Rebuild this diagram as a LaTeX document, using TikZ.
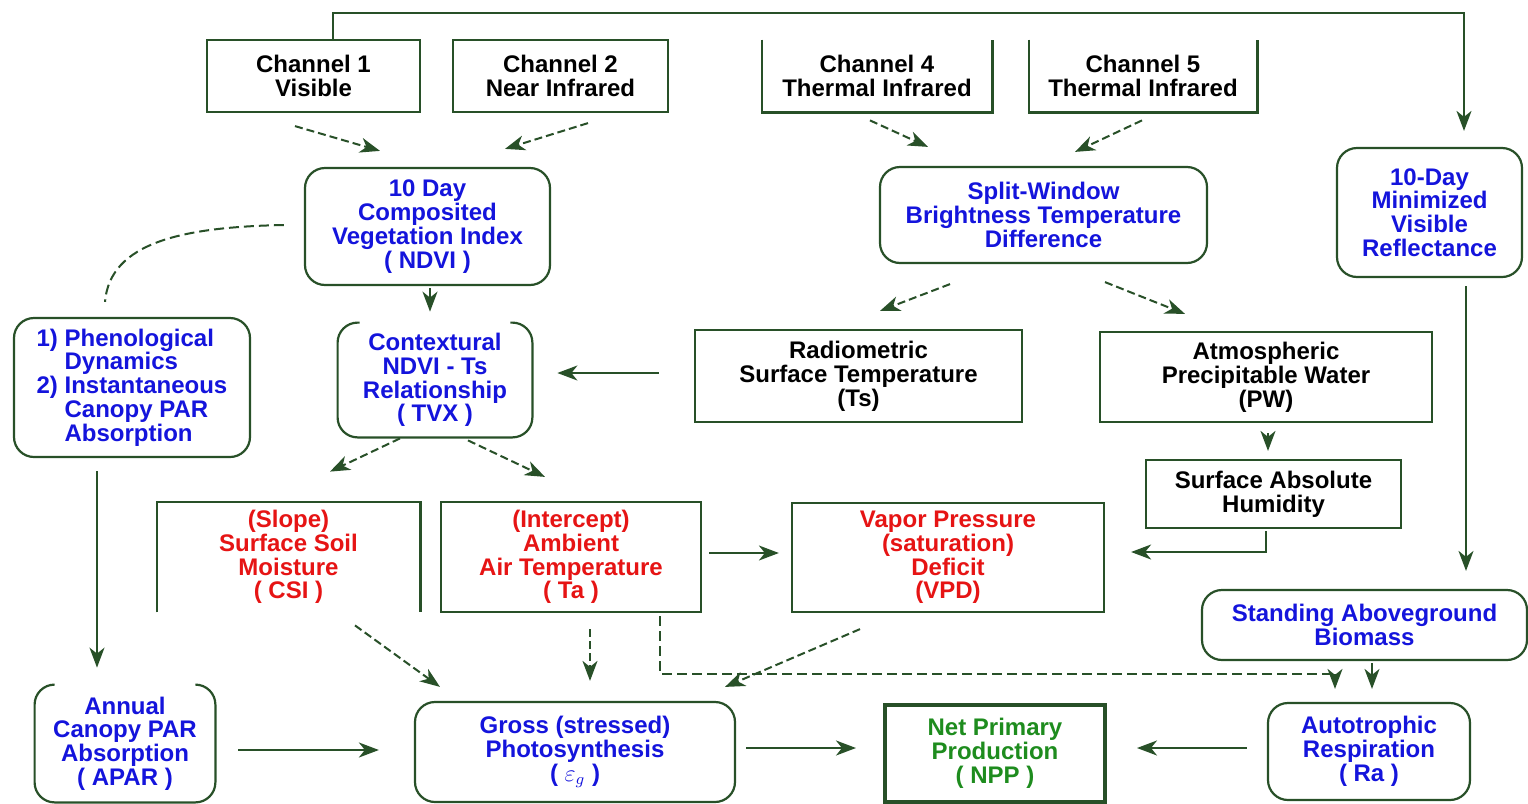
\documentclass[tikz,border=0pt]{standalone}
\usepackage{fontspec}
\setmainfont{Liberation Sans}
\usetikzlibrary{arrows.meta,calc}
\definecolor{dg}{RGB}{40,80,40}
\definecolor{tblue}{RGB}{20,20,220}
\definecolor{tred}{RGB}{230,20,20}
\definecolor{tgreen}{RGB}{30,140,30}
\begin{document}
\begin{tikzpicture}[x=0.5pt,y=-0.5pt,
  every node/.style={font=\bfseries\fontsize{12}{11.9}\selectfont, align=center, inner sep=0pt},
  box/.style={draw=dg, line width=1.1pt, rectangle},
  rbox/.style={draw=dg, line width=1.1pt, rectangle, rounded corners=10pt},
  nobox/.style={rectangle},
  frame/.style={draw=dg, line width=1.1pt},
  arr/.style={draw=dg, line width=1pt, -{Stealth[length=10pt,width=7.5pt,inset=3pt]}},
  darr/.style={arr, dash pattern=on 4pt off 2pt},
  dline/.style={draw=dg, line width=1pt, dash pattern=on 5pt off 2.5pt}
]
\useasboundingbox (0,0) rectangle (1528,804);
\fill[white] (0,0) rectangle (1528,804);

% top row
\node[box, minimum width=106.5pt, minimum height=36pt] (ch1) at (313.5,76) {Channel 1\\Visible};
\node[box, minimum width=107.5pt, minimum height=36pt] (ch2) at (560.5,76) {Channel 2\\Near Infrared};
\node[nobox, minimum width=115pt, minimum height=36pt] (ch4) at (877,76) {Channel 4\\Thermal Infrared};
\node[nobox, minimum width=114pt, minimum height=36pt] (ch5) at (1143,76) {Channel 5\\Thermal Infrared};
\draw[frame] (ch4.north west) -- (ch4.south west) -- (ch4.south east) -- (ch4.north east);
\draw[frame] (ch5.north west) -- (ch5.south west) -- (ch5.south east) -- (ch5.north east);

% second row
\node[rbox, text=tblue, minimum width=122.5pt, minimum height=58.5pt] (ndvi) at (427.5,226.5) {10 Day\\Composited\\Vegetation Index\\( NDVI )};
\node[rbox, text=tblue, minimum width=163.5pt, minimum height=48pt] (split) at (1043.5,215) {Split-Window\\Brightness Temperature\\Difference};
\node[rbox, text=tblue, minimum width=92.5pt, minimum height=64.5pt] (min) at (1429.5,212.5) {10-Day\\Minimized\\Visible\\Reflectance};

% third row
\node[rbox, text=tblue, align=left, minimum width=118pt, minimum height=69.5pt] (phen) at (132,387.5) {1) Phenological\\\phantom{1) }Dynamics\\2) Instantaneous\\\phantom{2) }Canopy PAR\\\phantom{2) }Absorption};
\node[nobox, text=tblue, minimum width=97pt, minimum height=57pt] (tvx) at (435,380) {Contextural\\NDVI - Ts\\Relationship\\( TVX )};
\draw[frame, rounded corners=10pt] ($(tvx.north west)+(22,0)$) -- (tvx.north west) -- (tvx.south west) -- (tvx.south east) -- (tvx.north east) -- ($(tvx.north east)+(-22,0)$);
\node[box, minimum width=163.5pt, minimum height=46pt] (ts) at (858.5,376) {Radiometric\\Surface Temperature\\(Ts)};
\node[box, minimum width=166pt, minimum height=45pt] (pw) at (1266,377) {Atmospheric\\Precipitable Water\\(PW)};
\node[box, minimum width=127.5pt, minimum height=34pt] (hum) at (1273.5,494) {Surface Absolute\\Humidity};

% fourth row
\node[nobox, text=tred, minimum width=131.5pt, minimum height=55pt] (csi) at (288.5,557) {(Slope)\\Surface Soil\\Moisture\\( CSI )};
\draw[frame] (csi.south west) -- (csi.north west) -- (csi.north east) -- (csi.south east);
\node[box, text=tred, minimum width=130pt, minimum height=55pt] (ta) at (571,557) {(Intercept)\\Ambient\\Air Temperature\\( Ta )};
\node[box, text=tred, minimum width=156pt, minimum height=54.5pt] (vpd) at (948,557.5) {Vapor Pressure\\(saturation)\\Deficit\\(VPD)};
\node[rbox, text=tblue, minimum width=162.5pt, minimum height=35pt] (stand) at (1364.5,625) {Standing Aboveground\\Biomass};

% bottom row
\node[nobox, text=tblue, minimum width=90pt, minimum height=58.5pt] (apar) at (125,743.5) {Annual\\Canopy PAR\\Absorption\\( APAR )};
\draw[frame, rounded corners=10pt] ($(apar.north west)+(18,0)$) -- (apar.north west) -- (apar.south west) -- (apar.south east) -- (apar.north east) -- ($(apar.north east)+(-20,0)$);
\node[rbox, text=tblue, minimum width=160pt, minimum height=50pt] (gross) at (575,752) {Gross (stressed)\\Photosynthesis\\( $\varepsilon_{g}$ )};
\node[draw=dg, line width=2pt, text=tgreen, minimum width=110pt, minimum height=48.5pt] (npp) at (995,753.5) {Net Primary\\Production\\( NPP )};
\node[rbox, text=tblue, minimum width=101pt, minimum height=48.5pt] (ra) at (1369,751.5) {Autotrophic\\Respiration\\( Ra )};

% connectors
\draw[arr] ($(ch1.north)+(19.5,0)$) -- ++(0,-26) -| ($(min.north)+(34.5,-16)$);
\draw[darr] ($(ch1.south)+(-18.5,13)$) -- ($(ndvi.north)+(-47.5,-16)$);
\draw[darr] ($(ch2.south)+(27.5,10)$) -- ($(ndvi.north)+(77.5,-18)$);
\draw[darr] ($(ch4.south)+(-7,8)$) -- ($(split.north)+(-115.5,-19)$);
\draw[darr] ($(ch5.south)+(-1,8)$) -- ($(split.north)+(31.5,-14)$);
\draw[arr] ($(ndvi.south)+(2.5,2)$) -- ($(tvx.north)+(-5,-11)$);
\draw[dline] ($(ndvi.west)+(-20,-1.5)$) .. controls +(-100,2) and +(5,-60) .. ($(phen.north)+(-27,-15)$);
\draw[arr] ($(phen.south)+(-35,13)$) -- ($(apar.north)+(-28,-17)$);
\draw[darr] ($(split.south)+(-93.5,20)$) -- ($(ts.north)+(21.5,-18)$);
\draw[darr] ($(split.south)+(61.5,18)$) -- ($(pw.north)+(-81,-17)$);
\draw[arr] ($(ts.west)+(-35,-3)$) -- ($(tvx.east)+(25,-7)$);
\draw[arr] ($(pw.south)+(2,10)$) -- ($(hum.north)+(-5.5,-8)$);
\draw[arr] ($(hum.south)+(-7.5,2)$) |- ($(vpd.east)+(26,-5.5)$);
\draw[arr] ($(min.south)+(36.5,8)$) -- ($(stand.north)+(101.5,-18)$);
\draw[darr] ($(tvx.south)+(-35,1)$) -- ($(csi.north)+(41.5,-30)$);
\draw[darr] ($(tvx.south)+(33,3)$) -- ($(ta.north)+(-26,-24)$);
\draw[arr] ($(ta.east)+(7,-4)$) -- ($(vpd.west)+(-12,-4.5)$);
\draw[darr] ($(csi.south)+(66.5,13)$) -- ($(gross.north)+(-135,-14)$);
\draw[darr] ($(ta.south)+(19,16)$) -- ($(gross.north)+(15,-20)$);
\draw[dline] ($(ta.south)+(89,3)$) |- ($(ra.north)+(-34,-28)$);
\draw[arr] ($(ra.north)+(-34,-28)$) -- ($(ra.north)+(-34,-13)$);
\draw[darr] ($(vpd.south)+(-88,16)$) -- ($(gross.north)+(150,-14)$);
\draw[arr] ($(stand.south)+(7.5,2)$) -- ($(ra.north)+(3,-13)$);
\draw[arr] ($(apar.east)+(23,6.5)$) -- ($(gross.west)+(-35,-2)$);
\draw[arr] ($(gross.east)+(10,-4)$) -- ($(npp.west)+(-27,-5.5)$);
\draw[arr] ($(ra.west)+(-20,-3.5)$) -- ($(npp.east)+(30,-5.5)$);
\end{tikzpicture}
\end{document}
